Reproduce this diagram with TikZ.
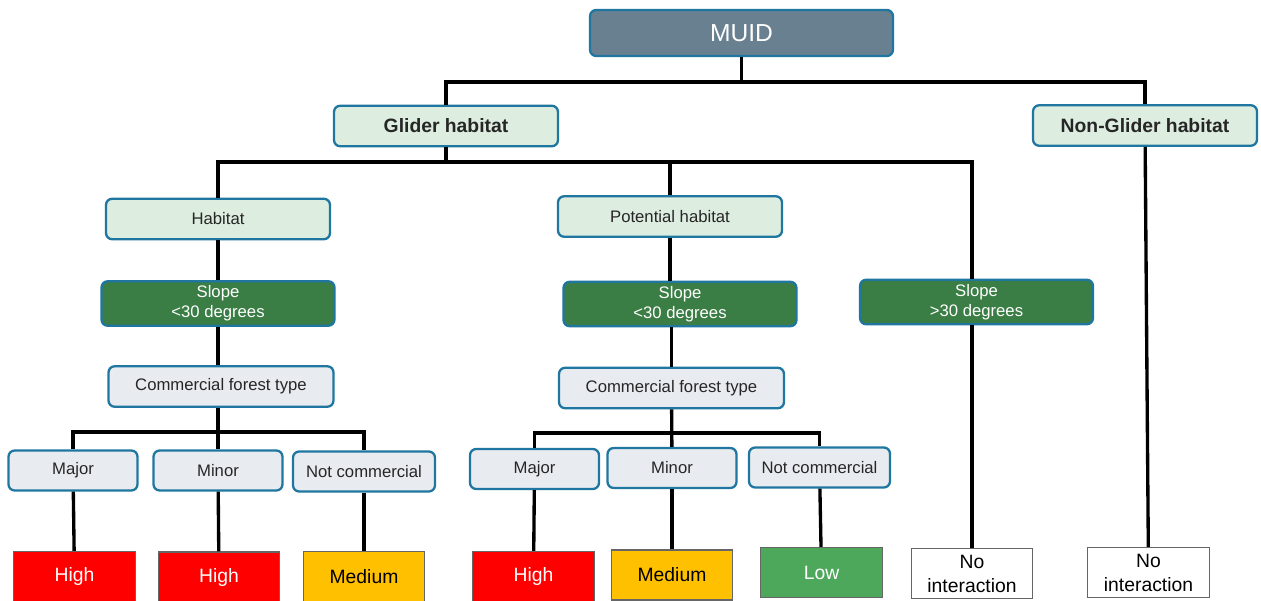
\documentclass[tikz,border=0pt]{standalone}
\usepackage{fontspec}
\setmainfont{Liberation Sans}
\usepackage{xcolor}
\usetikzlibrary{positioning,calc}

\definecolor{edgeblue}{RGB}{31,118,160}
\definecolor{muidgray}{RGB}{104,128,143}
\definecolor{palegreen}{RGB}{221,237,224}
\definecolor{slopegreen}{RGB}{58,125,69}
\definecolor{palegray}{RGB}{232,236,240}
\definecolor{lowgreen}{RGB}{78,168,92}
\definecolor{midamber}{RGB}{255,192,0}

\tikzset{
    box/.style={rectangle, rounded corners=3.5pt, draw=edgeblue, line width=1.3pt, inner sep=0pt, align=center, text=black!85, font=\fontsize{9.5}{11.3}\selectfont},
    topbox/.style={box, fill=muidgray, text=white, minimum width=6.06cm, minimum height=0.92cm, font=\fontsize{14}{16}\selectfont},
    habbox/.style={box, fill=palegreen, minimum width=4.48cm, minimum height=0.81cm},
    slopebox/.style={box, fill=slopegreen, text=white, minimum width=4.66cm, minimum height=0.89cm},
    typebox/.style={box, fill=palegray, minimum width=4.5cm, minimum height=0.81cm},
    classbox/.style={box, fill=palegray, minimum width=2.58cm, minimum height=0.8cm},
    result/.style={rectangle, draw=black!60, line width=0.6pt, inner sep=0pt, align=center, minimum width=2.43cm, minimum height=1cm, font=\fontsize{11}{13.6}\selectfont},
    link/.style={line width=1.9pt}
}

\begin{document}
\begin{tikzpicture}[x=0.02cm, y=-0.02cm]
    \useasboundingbox (0,0) rectangle (1261,601);

    \node (muid) [topbox] at (741.5,33) {MUID};
    \node (glider) [habbox, font=\fontsize{11}{13}\selectfont\bfseries] at (446,126) {Glider habitat};
    \node (nonglider) [habbox, font=\fontsize{11}{13}\selectfont\bfseries] at (1145,125.5) {Non-Glider habitat};

    \node (habitat) [habbox] at (218,219) {Habitat};
    \node (potential) [habbox] at (670,216.5) {Potential habitat};

    \node (slopeA) [slopebox] at (218,303.5) {Slope\\<30 degrees};
    \node (slopeB) [slopebox] at (680,304) {Slope\\<30 degrees};
    \node (slopeC) [slopebox] at (976.5,302) {Slope\\>30 degrees};

    \node (typeA) [typebox] at (221,386.5) {Commercial forest type};
    \node (typeB) [typebox] at (671.5,388) {Commercial forest type};

    \node (majorA) [classbox] at (73,470.5) {Major};
    \node (minorA) [classbox] at (218,470.5) {Minor};
    \node (notcomA) [classbox, minimum width=2.84cm] at (364,471.5) {Not commercial};
    \node (majorB) [classbox] at (534.5,469) {Major};
    \node (minorB) [classbox] at (672,468) {Minor};
    \node (notcomB) [classbox, minimum width=2.82cm] at (819.5,467.5) {Not commercial};

    \node (highA) [result, fill=red, text=white] at (74.5,576.5) {High};
    \node (highB) [result, fill=red, text=white] at (219,577) {High};
    \node (medA) [result, fill=midamber] at (364,576.5) {Medium};
    \node (highC) [result, fill=red, text=white] at (533.5,576.5) {High};
    \node (medB) [result, fill=midamber] at (672,575) {Medium};
    \node (low) [result, fill=lowgreen, text=white] at (821.5,572.5) {Low};
    \node (nointA) [result, fill=white] at (972,573.5) {No\\interaction};
    \node (nointB) [result, fill=white] at (1148.5,572.5) {No\\interaction};

    \coordinate (j1) at (741.5,82);
    \coordinate (j2) at (446,162);
    \coordinate (j3) at (218,432);
    \coordinate (j4) at (672,433);

    \draw [link] (muid) -- (j1);
    \draw [link] (glider.north) |- (j1) -| (nonglider.north);
    \draw [link] (glider) -- (j2);
    \draw [link] (habitat.north) |- (j2) -| (nointA |- slopeC.north);
    \draw [link] (potential.north) -- (potential |- j2);
    \draw [link] (nonglider) -- (nointB);

    \draw [link] (habitat) -- (slopeA);
    \draw [link] (slopeA) -- (slopeA |- typeA.north);
    \draw [link] (typeA.south -| minorA) -- (minorA);
    \draw [link] (majorA.north) |- (j3) -| (notcomA.north);

    \draw [link] (potential) -- (potential |- slopeB.north);
    \draw [link] (typeB) -- (typeB |- slopeB.south);
    \draw [link] (typeB) -- (minorB);
    \draw [link] (majorB.north) |- (j4) -| (notcomB.north);

    \draw [link] (nointA) -- (nointA |- slopeC.south);

    \draw [link] (majorA) -- (highA);
    \draw [link] (minorA) -- (highB);
    \draw [link] (notcomA) -- (medA);
    \draw [link] (majorB) -- (highC);
    \draw [link] (minorB) -- (medB);
    \draw [link] (notcomB) -- (low);
\end{tikzpicture}
\end{document}
